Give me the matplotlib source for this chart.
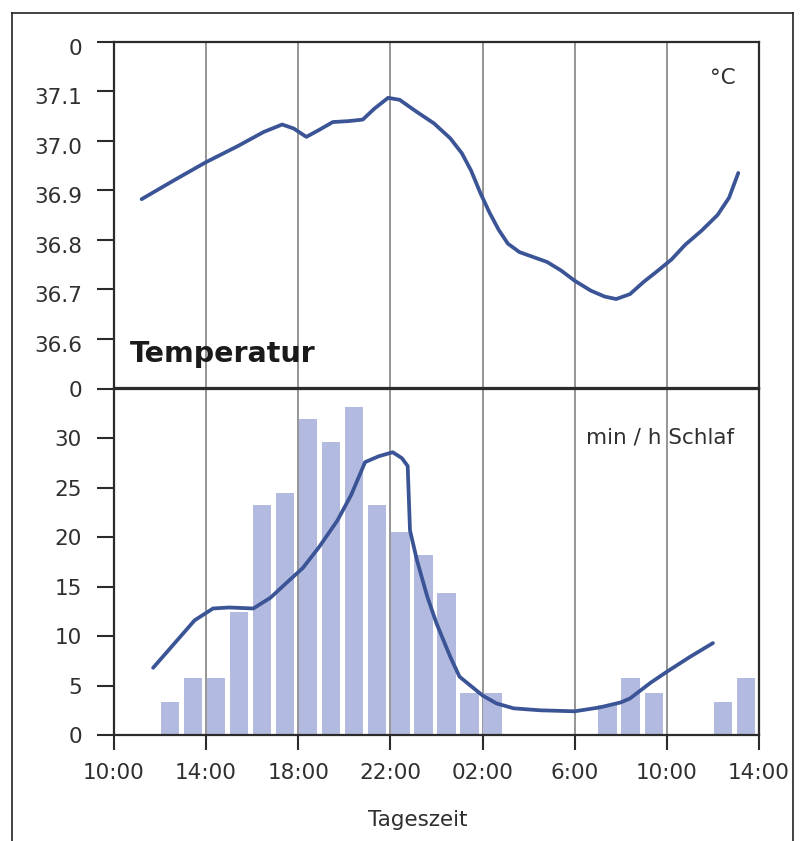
import matplotlib
matplotlib.use("Agg")
import matplotlib.pyplot as plt
from matplotlib.lines import Line2D
from matplotlib import transforms

# hours counted from 10:00 on day 1
tick_hours = [0, 4, 8, 12, 16, 20, 24, 28]
tick_labels = ['10:00', '14:00', '18:00', '22:00', '02:00', '6:00', '10:00', '14:00']

# body temperature curve
temp_hours = [1.2, 2.6, 4.0, 5.4, 6.5, 7.3, 7.8, 8.35, 8.9, 9.5, 10.2, 10.8, 11.3,
              11.9, 12.4, 13.1, 13.9, 14.6, 15.1, 15.5, 15.9, 16.3, 16.7, 17.1,
              17.6, 18.2, 18.8, 19.4, 20.0, 20.7, 21.3, 21.8, 22.4, 23.0, 23.6,
              24.2, 24.8, 25.5, 26.2, 26.7, 27.1]
temp_values = [36.882, 36.92, 36.957, 36.99, 37.018, 37.033, 37.025, 37.008, 37.022,
               37.038, 37.040, 37.043, 37.065, 37.087, 37.083, 37.06, 37.035, 37.005,
               36.975, 36.94, 36.895, 36.855, 36.82, 36.792, 36.775, 36.765, 36.755,
               36.738, 36.717, 36.697, 36.685, 36.68, 36.69, 36.715, 36.737, 36.76,
               36.79, 36.818, 36.85, 36.885, 36.935]

# sleep minutes per hour (bars, one per hour starting at 12:00)
bar_start = list(range(2, 28))
bar_values = [3.3, 5.8, 5.8, 12.4, 23.3, 24.5, 32.0, 29.6, 33.2, 23.3, 20.5, 18.2,
              14.4, 4.3, 4.3, 0, 0, 0, 0, 3.0, 5.8, 4.3, 0, 0, 3.3, 5.8]

# smoothed sleep curve
sleep_hours = [1.7, 2.6, 3.5, 4.3, 5.0, 6.05, 6.8, 7.4, 8.2, 8.9, 9.7, 10.3, 10.9,
               11.5, 12.1, 12.5, 12.75, 12.85, 13.15, 13.6, 14.0, 14.6, 15.0, 16.0,
               16.6, 17.35, 18.5, 20.0, 21.1, 22.0, 22.4, 23.3, 24.0, 25.0, 26.0]
sleep_values = [6.8, 9.2, 11.6, 12.8, 12.9, 12.8, 13.9, 15.2, 16.9, 19.0, 21.7, 24.3,
                27.6, 28.2, 28.6, 28.0, 27.2, 20.7, 17.7, 14.0, 11.3, 7.9, 5.9, 4.0,
                3.2, 2.7, 2.5, 2.4, 2.8, 3.3, 3.7, 5.3, 6.4, 7.9, 9.3]

line_col = '#3a5496'
bar_col = '#b3bae0'
spine_col = '#2b2b2b'
text_col = '#2f2f2f'
grid_col = '#8c8c8c'

fig = plt.figure(figsize=(8.02, 8.41), dpi=100)
ax1 = fig.add_axes([0.1421, 0.5386, 0.8043, 0.4115])
ax2 = fig.add_axes([0.1421, 0.1260, 0.8043, 0.4115])

for ax in (ax1, ax2):
    ax.set_xlim(0, 28)
    ax.set_xticks(tick_hours)
    ax.set_axisbelow(True)
    ax.grid(axis='x', color=grid_col, lw=1.3)
    for s in ax.spines.values():
        s.set_color(spine_col)
        s.set_linewidth(1.6)
    ax.tick_params(axis='y', direction='out', length=12, width=1.5, color=spine_col,
                   labelsize=15.5, labelcolor=text_col, pad=11)

# top panel: temperature
ax1.plot(temp_hours, temp_values, color=line_col, lw=2.7, solid_capstyle='round',
         solid_joinstyle='round')
ax1.set_ylim(36.5, 37.2)
ax1.set_yticks([36.6, 36.7, 36.8, 36.9, 37.0, 37.1, 37.2])
ax1.set_yticklabels(['36.6', '36.7', '36.8', '36.9', '37.0', '37.1', '0'])
ax1.tick_params(axis='x', length=0, labelbottom=False)
off = transforms.ScaledTranslation(0, -5 / 100, fig.dpi_scale_trans)
for lab in ax1.get_yticklabels():
    lab.set_transform(lab.get_transform() + off)
ax1.text(0.7, 36.553, 'Temperatur', fontsize=20.5, fontweight='bold', color='#1a1a1a',
         ha='left', va='baseline')
ax1.text(27.0, 37.127, '°C', fontsize=15.5, color=text_col, ha='right', va='center')

# bottom panel: sleep
ax2.bar([h + 0.43 for h in bar_start], bar_values, width=0.8, color=bar_col,
        edgecolor='none', zorder=2)
ax2.plot(sleep_hours, sleep_values, color=line_col, lw=2.7, zorder=3,
         solid_capstyle='round', solid_joinstyle='round')
ax2.set_ylim(0, 35)
ax2.set_yticks([0, 5, 10, 15, 20, 25, 30, 35])
ax2.set_yticklabels(['0', '5', '10', '15', '20', '25', '30', '0'])
ax2.set_xticklabels(tick_labels)
ax2.tick_params(axis='x', direction='out', length=11, width=1.5, color=spine_col,
                labelsize=15.5, labelcolor=text_col, pad=9)
ax2.text(26.9, 30.1, 'min / h Schlaf', fontsize=15.5, color=text_col,
         ha='right', va='center')
ax2.text(13.2, -8.6, 'Tageszeit', fontsize=15.5, color=text_col,
         ha='center', va='center')

# outer frame of the figure panel
fx0, fx1, fy1 = 12 / 802, 793 / 802, 1 - 13 / 841
fig.add_artist(Line2D([fx0, fx0], [0, fy1], color='#222222', lw=1.2))
fig.add_artist(Line2D([fx1, fx1], [0, fy1], color='#222222', lw=1.2))
fig.add_artist(Line2D([fx0, fx1], [fy1, fy1], color='#222222', lw=1.2))

fig.savefig('out.png', dpi=100, facecolor='white')
